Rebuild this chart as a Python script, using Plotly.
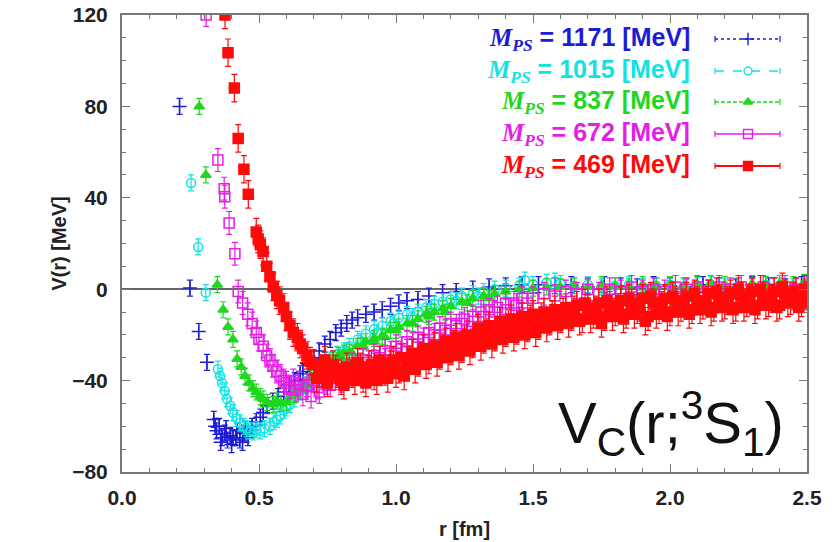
import plotly.graph_objects as go

# ---------------- data ----------------
masses = ["1171", "1015", "837", "672", "469"]

r_1171 = [0.21, 0.248, 0.28, 0.31, 0.335, 0.345, 0.355, 0.365, 0.375, 0.385, 0.395, 0.405, 0.42, 0.43,
          0.445, 0.46, 0.475, 0.49, 0.505, 0.515, 0.53, 0.55, 0.57, 0.59, 0.61, 0.63, 0.65, 0.66, 0.68,
          0.70, 0.72, 0.74, 0.76, 0.78, 0.80, 0.82, 0.84, 0.86, 0.89, 0.92, 0.95, 0.98, 1.01, 1.04, 1.08,
          1.12, 1.17, 1.22, 1.28, 1.34, 1.40, 1.46, 1.52, 1.58, 1.64, 1.70, 1.76, 1.82, 1.88, 1.94, 2.00,
          2.06, 2.12, 2.18, 2.24, 2.30, 2.36, 2.42, 2.48,
          0.34, 0.36, 0.38, 0.40, 0.415, 0.44, 0.45]
v_1171 = [80, 0.5, -18.5, -32, -57, -62, -60, -65, -63, -66, -64, -65, -62, -66,
          -63, -65, -60, -58, -56, -54, -51, -49, -47, -45, -42, -40, -37, -36, -33,
          -30, -27, -24, -22, -19, -17, -15, -13.5, -12.5, -11, -10, -9, -7.5, -6, -5, -4.5,
          -3, -1.5, -1, 0, 1, 1.5, 2, 2, 1.5, 2, 1, 2, 1.5, 1, 2, 1.5,
          1, 2, 1.5, 1, 2, 1.5, 1, 2,
          -60, -67, -61, -68, -65, -67, -61]

r_1015 = [0.252, 0.278, 0.306, 0.35, 0.358, 0.365, 0.375, 0.383, 0.395, 0.405, 0.418, 0.43, 0.445, 0.455,
          0.467, 0.48, 0.49, 0.504, 0.52, 0.54, 0.555, 0.565, 0.577, 0.59, 0.60, 0.613, 0.63, 0.65, 0.67,
          0.69, 0.71, 0.735, 0.76, 0.785, 0.81, 0.83, 0.86, 0.89, 0.92, 0.95, 0.98, 1.01, 1.04, 1.08, 1.11,
          1.14, 1.17, 1.20, 1.24, 1.28, 1.32, 1.36, 1.40, 1.45, 1.50, 1.55, 1.60, 1.65, 1.70, 1.75, 1.80,
          1.85, 1.90, 1.95, 2.00, 2.05, 2.10, 2.15, 2.20, 2.25, 2.30, 2.35, 2.40, 2.45, 2.50,
          0.72, 0.77, 0.82, 0.87, 0.93, 0.99, 1.06, 1.13, 1.22, 1.30, 1.47, 1.58]
v_1015 = [46.5, 18.5, -1.5, -35, -38, -41, -44.5, -48, -51, -54, -56.5, -58.5, -60, -61,
          -62, -62.5, -61.5, -62, -61, -60, -58, -57, -55.5, -53, -52, -50.5, -48, -45, -42,
          -40, -38, -35, -31, -28.5, -27, -25, -22, -19.5, -17.5, -16, -14, -12.5, -11, -10, -8,
          -6.5, -5.5, -4.5, -3, -2, -1, 0, 0.5, 1.5, 2, 3, 2.5, 1.5, 2, 1, 1.5,
          2, 1, 1.5, 2, 1, 1.5, 2, 1, 1.5, 1, 2, 1.5, 1, 2,
          -39, -32, -27, -23, -19, -15, -12, -8, -5, -3, 4, 3.5]

r_837 = [0.282, 0.306, 0.348, 0.369, 0.387, 0.405, 0.42, 0.435, 0.449, 0.463, 0.478, 0.49, 0.505, 0.515,
         0.53, 0.551, 0.565, 0.58, 0.60, 0.615, 0.63, 0.65, 0.67, 0.69, 0.71, 0.73, 0.75, 0.77, 0.79,
         0.81, 0.83, 0.86, 0.89, 0.92, 0.95, 0.98, 1.01, 1.04, 1.08, 1.11, 1.14, 1.17, 1.20, 1.24, 1.28,
         1.32, 1.36, 1.40, 1.45, 1.50, 1.55, 1.60, 1.65, 1.70, 1.75, 1.80, 1.85, 1.90, 1.95, 2.00, 2.05,
         2.10, 2.15, 2.20, 2.25, 2.30, 2.35, 2.40, 2.45, 2.49,
         0.76, 0.80, 0.84, 0.88, 0.92, 0.96, 1.00, 1.06, 1.12, 1.18, 1.26, 1.34]
v_837 = [80, 50, 2, -9, -16.5, -22, -30.5, -34, -38, -41, -43.5, -45, -47, -48,
         -49.5, -50.5, -49, -50, -49.5, -47, -46, -44, -42, -39, -37, -35, -32, -31, -29,
         -28, -27.5, -25, -23, -21.5, -20.5, -18, -16.5, -15, -13, -11, -10, -8.5, -7.5, -5.5, -4,
         -3, -2, -1, 0, 0.5, 1, 1, 1.5, 1, 2, 1.5, 1, 2, 1.5, 2, 1.5,
         2, 2.5, 2, 1.5, 2.5, 2, 2.5, 2, 3,
         -34, -30, -28, -25, -23, -21, -18, -15, -12, -10, -6, -4]

r_672 = [0.307, 0.35, 0.373, 0.375, 0.391, 0.412, 0.424, 0.44, 0.459, 0.475, 0.49, 0.50, 0.515, 0.528,
         0.54, 0.551, 0.565, 0.577, 0.59, 0.60, 0.613, 0.625, 0.635, 0.645, 0.66, 0.675, 0.69, 0.70, 0.715,
         0.73, 0.745, 0.76, 0.78, 0.80, 0.82, 0.84, 0.86, 0.88, 0.90, 0.92, 0.94, 0.96, 0.98, 1.00, 1.02,
         1.04, 1.06, 1.08, 1.10, 1.12, 1.14, 1.16, 1.18, 1.20, 1.22, 1.25, 1.28, 1.31, 1.34, 1.37, 1.40,
         1.43, 1.46, 1.50, 1.54, 1.58, 1.62, 1.66, 1.70, 1.74, 1.78, 1.82, 1.86, 1.90, 1.94, 1.98, 2.02,
         2.06, 2.10, 2.14, 2.18, 2.22, 2.26, 2.30, 2.34, 2.38, 2.42, 2.46, 2.50,
         0.72, 0.76, 0.80, 0.84, 0.88, 0.92, 0.96, 1.00, 1.04, 1.08, 1.12, 1.16, 1.20, 1.24, 1.28, 1.32,
         1.36, 1.40, 1.44, 1.48]
v_672 = [120, 56.5, 44, 40.5, 29, 15.5, -1, -6, -11, -15, -19, -22, -25, -29,
         -31, -33.5, -36, -38, -40, -41, -43, -40, -44, -41, -46, -42, -47, -40, -43,
         -39, -41, -37, -39, -35, -37, -33, -34, -31, -32, -29, -30, -27, -28, -25, -26,
         -23, -24, -21, -22, -19, -20, -17, -18, -15, -16, -13, -12, -10, -9, -8, -6,
         -6, -4, -4, -2, -3, -1, -2, 0, -2, 0, -1, 1, -1, 0, -1, 1,
         0, 1, -1, 1, 0, 1, 0, 1, 0, 1, 0, 1,
         -45, -42, -40, -37, -35, -33, -31, -28, -27, -24, -22, -20, -18, -15, -14, -12,
         -10, -9, -7, -6]

r_469 = [0.376, 0.387, 0.41, 0.424, 0.445, 0.461, 0.49, 0.497, 0.505, 0.515, 0.528, 0.54, 0.552, 0.565,
         0.575, 0.59, 0.60, 0.613, 0.625, 0.64, 0.65, 0.66, 0.675, 0.686,
         0.70, 0.72, 0.74, 0.76, 0.78, 0.80, 0.82, 0.84, 0.86, 0.88, 0.90, 0.92, 0.94, 0.96, 0.98,
         1.00, 1.02, 1.04, 1.06, 1.08, 1.10, 1.12, 1.14, 1.16, 1.18, 1.20, 1.22, 1.24, 1.26, 1.28,
         1.30, 1.32, 1.34, 1.36, 1.38, 1.40, 1.42, 1.44, 1.46, 1.48, 1.50, 1.52, 1.54, 1.56, 1.58,
         1.60, 1.62, 1.64, 1.66, 1.68, 1.70, 1.72, 1.74, 1.76, 1.78, 1.80, 1.82, 1.84, 1.86, 1.88,
         1.90, 1.92, 1.94, 1.96, 1.98, 2.00, 2.02, 2.04, 2.06, 2.08, 2.10, 2.12, 2.14, 2.16, 2.18,
         2.20, 2.22, 2.24, 2.26, 2.28, 2.30, 2.32, 2.34, 2.36, 2.38, 2.40, 2.42, 2.44, 2.46, 2.48, 2.50,
         0.71, 0.73, 0.75, 0.77, 0.79, 0.81, 0.83, 0.85, 0.87, 0.89, 0.91, 0.93, 0.95, 0.97, 0.99,
         1.01, 1.03, 1.05, 1.07, 1.09, 1.11, 1.13, 1.15, 1.17, 1.19, 1.21, 1.23, 1.25, 1.27, 1.29,
         1.31, 1.33, 1.35, 1.37, 1.39, 1.41, 1.43, 1.45, 1.47, 1.49, 1.51, 1.53, 1.55, 1.57, 1.59,
         1.61, 1.63, 1.65, 1.67, 1.69, 1.71, 1.73, 1.75, 1.77, 1.79, 1.81, 1.83, 1.85, 1.87, 1.89,
         1.91, 1.93, 1.95, 1.97, 1.99, 2.01, 2.03, 2.05, 2.07, 2.09, 2.11, 2.13, 2.15, 2.17, 2.19,
         2.21, 2.23, 2.25, 2.27, 2.29, 2.31, 2.33, 2.35, 2.37, 2.39, 2.41, 2.43, 2.45, 2.47, 2.49]
v_469 = [120, 103.5, 88, 66, 52.5, 41.5, 25, 22, 19.5, 16.5, 10, 5.5, 1, -2.5,
         -5, -8, -12, -16, -19, -21, -24, -26, -29, -31.5,
         -33, -37, -31, -38, -35, -40, -34, -37, -32, -39, -35, -38, -31, -36, -33,
         -37, -30, -34, -28, -32, -26, -31, -25, -29, -23, -27, -21, -26, -20, -24,
         -17, -22, -16, -21, -14, -19, -13, -18, -12, -17, -11, -16, -10, -14, -9,
         -13, -8, -12, -7, -13, -8, -11, -6, -12, -7, -10, -5, -11, -6, -9,
         -4, -12, -6, -9, -4, -10, -5, -8, -3, -9, -5, -7, -2, -8, -4,
         -7, -2, -8, -3, -6, -1, -7, -3, -6, -1, -7, -2, -5, -1, -6, -3,
         -39, -35, -41, -33, -37, -42, -36, -40, -34, -41, -33, -40, -35, -39, -31,
         -35, -38, -31, -35, -29, -33, -28, -32, -26, -30, -24, -29, -22, -27, -21,
         -25, -19, -24, -18, -22, -15, -21, -14, -20, -13, -19, -12, -17, -11, -16,
         -10, -15, -9, -14, -6, -13, -9, -15, -5, -12, -8, -13, -4, -11, -8,
         -14, -3, -11, -7, -12, -3, -10, -6, -11, -2, -9, -5, -10, -1, -8,
         -5, -9, 0, -8, -4, -9, 0, -7, -4, -8, 1, -6, -3, -8, 0]

for _r, _v in ((r_1171, v_1171), (r_1015, v_1015), (r_837, v_837), (r_672, v_672), (r_469, v_469)):
    assert len(_r) == len(_v), (len(_r), len(_v))

err_1171, err_1015, err_837, err_672, err_469 = 3.5, 3.5, 3.5, 5.0, 6.0

# ---------------- styles ----------------
series = [
    (masses[0], r_1171, v_1171, err_1171, "#1c1cd4", "cross-thin-open", 10, "dot"),
    (masses[1], r_1015, v_1015, err_1015, "#14e1e1", "circle-open", 9, "dash"),
    (masses[2], r_837, v_837, err_837, "#1ed81e", "triangle-up", 9, "4px,2px"),
    (masses[3], r_672, v_672, err_672, "#e41ee4", "square-open", 10, "solid"),
    (masses[4], r_469, v_469, err_469, "#ff0a0a", "square", 10, "solid"),
]

L, R, T, B = 122, 28, 15, 70
W, H = 835, 542
pw, ph = W - L - R, H - T - B

def px(xp):
    return (xp - L) / pw

def py(yp):
    return (H - B - yp) / ph

fig = go.Figure()
for name, rr, vv, ee, col, sym, sz, dash in series:
    fig.add_trace(go.Scatter(
        x=rr, y=vv, mode="markers", showlegend=False,
        marker=dict(symbol=sym, size=sz, color=col, line=dict(color=col, width=1.5)),
        error_y=dict(type="constant", value=ee, color=col, thickness=1.2, width=3),
    ))

# custom legend (text right-aligned, sample to the right)
row_y = [39, 71, 102, 134, 166]
annotations = []
shapes = []
lx0, lx1, lxm = 715, 780, 748
for (name, rr, vv, ee, col, sym, sz, dash), yy in zip(series, row_y):
    annotations.append(dict(
        xref="paper", yref="paper", x=px(692), y=py(yy), xanchor="right", yanchor="middle",
        showarrow=False,
        text=("<span style='font-family:Liberation Serif'><i>M</i><sub><i>PS</i></sub></span>"
              f" = {name} [MeV]"),
        font=dict(family="Liberation Sans, Arial", size=25, color=col, weight="bold"),
    ))
    shapes.append(dict(type="line", xref="paper", yref="paper",
                       x0=px(lx0), x1=px(lx1), y0=py(yy), y1=py(yy),
                       line=dict(color=col, width=1.3 if name != "469" else 1.8, dash=dash)))
    for xe in (lx0, lx1):
        shapes.append(dict(type="line", xref="paper", yref="paper",
                           x0=px(xe), x1=px(xe), y0=py(yy - 3), y1=py(yy + 3),
                           line=dict(color=col, width=1.2)))
    fig.add_trace(go.Scatter(
        x=[px(lxm)], y=[py(yy)], xaxis="x2", yaxis="y2", mode="markers", showlegend=False,
        marker=dict(symbol=sym, size=sz - 1, color=col, line=dict(color=col, width=1.4)),
        hoverinfo="skip",
    ))

annotations.append(dict(
    xref="paper", yref="paper", x=px(556), y=py(423), xanchor="left", yanchor="middle",
    showarrow=False, text="V<sub>C</sub>(r;<sup>3</sup>S<sub>1</sub>)",
    font=dict(family="Liberation Sans, Arial", size=58, color="#111"),
))

axcol = "#777"
tickfont = dict(family="Liberation Sans, Arial", size=21, color="#222", weight="bold")
titlefont = dict(family="Liberation Sans, Arial", size=20, color="#222", weight="bold")
fig.update_layout(
    width=W, height=H,
    margin=dict(l=L, r=R, t=T, b=B),
    paper_bgcolor="white", plot_bgcolor="white",
    font=dict(family="Liberation Sans, Arial", size=21, color="#1a1a1a"),
    xaxis=dict(
        range=[0, 2.5], tickvals=[0, 0.5, 1.0, 1.5, 2.0, 2.5], tickformat=".1f",
        showline=True, linecolor=axcol, linewidth=2, mirror="allticks",
        ticks="inside", ticklen=8, tickcolor=axcol, tickwidth=1.3,
        minor=dict(ticks="inside", ticklen=4, dtick=0.1, tickcolor=axcol, tickwidth=1),
        showgrid=False, zeroline=False, ticklabelstandoff=6, tickfont=tickfont,
        automargin=False,
        title=dict(text="r [fm]", font=titlefont, standoff=14),
    ),
    yaxis=dict(
        range=[-80, 120], tickvals=[-80, -40, 0, 40, 80, 120],
        showline=True, linecolor=axcol, linewidth=2, mirror="allticks",
        ticks="inside", ticklen=8, tickcolor=axcol, tickwidth=1.3,
        minor=dict(ticks="inside", ticklen=4, dtick=10, tickcolor=axcol, tickwidth=1),
        showgrid=False, zeroline=True, zerolinecolor="#666", zerolinewidth=2,
        ticklabelstandoff=8, tickfont=tickfont, automargin=False,
        title=dict(text="V(r) [MeV]", font=titlefont, standoff=0),
    ),
    xaxis2=dict(overlaying="x", range=[0, 1], visible=False),
    yaxis2=dict(overlaying="y", range=[0, 1], visible=False),
    annotations=annotations,
    shapes=shapes,
)

fig.write_html("out.html")
